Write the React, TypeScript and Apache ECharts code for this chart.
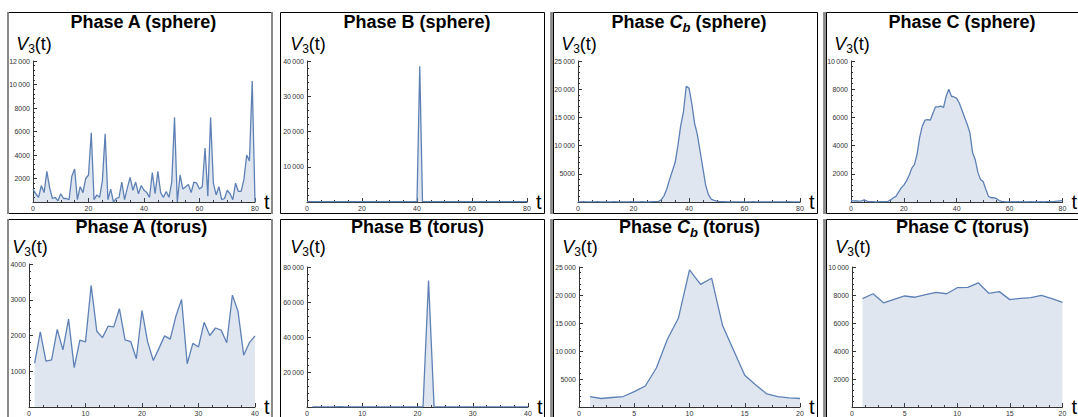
import React, { useEffect, useRef } from "react";
import * as echarts from "echarts";

// ---------------- data ----------------
const sphereT0 = 0; // sphere runs: t = 0..80
const torusT0 = 1; // torus runs: t = 1..N

const sphereA = [
  1100, 700, 400, 1400, 800, 2600, 1200, 300, 400, 100,
  700, 300, 300, 200, 2200, 2800, 200, 1300, 800, 2000,
  2300, 5900, 200, 600, 400, 1800, 5800, 200, 1100, 0,
  300, 400, 1700, 200, 1200, 2100, 1000, 1700, 700, 1400,
  1000, 800, 400, 2500, 700, 2600, 800, 400, 900, 400,
  1700, 7200, 0, 2300, 1100, 1300, 1500, 800, 1700, 1600,
  1100, 1300, 4600, 500, 7200, 1600, 600, 1300, 200, 300,
  1000, 700, 200, 1600, 900, 900, 1900, 4000, 3500, 10300,
  0,
];

const sphereB = [
  120, 90, 110, 100, 130, 90, 100, 110, 80, 120,
  100, 90, 110, 100, 120, 90, 100, 110, 100, 90,
  120, 100, 110, 90, 100, 130, 100, 90, 110, 100,
  120, 100, 90, 110, 100, 120, 90, 100, 110, 100,
  150, 38500, 120, 100, 90, 110, 100, 120, 90, 100,
  110, 100, 90, 120, 100, 110, 90, 100, 120, 100,
  110, 90, 100, 120, 100, 90, 110, 100, 120, 90,
  100, 110, 100, 90, 120, 100, 110, 90, 100, 110,
  100,
];

const sphereCb = [
  30, 20, 40, 20, 30, 20, 30, 40, 20, 30,
  20, 30, 20, 40, 30, 20, 30, 20, 30, 40,
  30, 20, 30, 40, 20, 30, 40, 60, 80, 120,
  400, 1100, 2300, 4000, 5500, 7000, 10000, 13500, 16000, 20500,
  20200, 17500, 14000, 12000, 9000, 6000, 3000, 1300, 500, 300,
  150, 80, 50, 40, 30, 20, 30, 20, 30, 20,
  30, 20, 30, 40, 20, 30, 20, 30, 20, 30,
  20, 30, 20, 30, 20, 30, 40, 20, 30, 20,
  30,
];

const sphereC = [
  100, 80, 70, 60, 80, 150, 60, 30, 20, 10,
  10, 20, 30, 20, 50, 150, 300, 400, 700, 1000,
  1200, 1500, 1900, 2400, 2650, 3400, 4600, 5400, 5800, 5850,
  5800, 6300, 6750, 6750, 6800, 6700, 7500, 8000, 7500, 7450,
  7350, 7000, 6500, 6000, 5500, 4900, 3500, 3000, 2100, 1600,
  1450, 900, 400, 300, 300, 250, 100, 50, 20, 10,
  10, 20, 10, 20, 10, 20, 10, 10, 20, 10,
  20, 10, 20, 10, 30, 20, 30, 40, 60, 80,
  100,
];

const torusA = [
  1230, 2100, 1280, 1320, 2170, 1600, 2460, 1100, 1870, 1820,
  3400, 2120, 1940, 2260, 2240, 2750, 1880, 1830, 1350, 2700,
  1820, 1300, 1640, 1990, 1900, 2540, 3010, 1210, 1780, 1680,
  2370, 2000, 2210, 2150, 1800, 3130, 2670, 1450, 1800, 1990,
];

const torusB = [
  100, 120, 90, 110, 100, 130, 90, 100, 110, 100,
  120, 90, 100, 110, 100, 90, 120, 100, 110, 100,
  150, 72300, 120, 100, 90, 110, 100, 120, 90, 100,
  110, 100, 90, 120, 100, 110, 90, 100, 110, 100,
];

const torusCb = [
  1870, 1520, 1700, 1870, 2750, 3750, 6970, 12100, 15900, 24500,
  21900, 23000, 14500, 10100, 5680, 3920, 2340, 1870, 1640, 1520,
];

const torusC = [
  7740, 8090, 7440, 7690, 7930, 7840, 8020, 8190, 8090, 8520,
  8540, 8870, 8120, 8240, 7670, 7760, 7810, 7980, 7740, 7480,
];

// axis ranges (tick labels)
const xMaxes = [80, 80, 80, 80, 40, 40, 20, 20];
const xSteps = [20, 20, 20, 20, 10, 10, 5, 5];
const yMaxes = [12000, 40000, 25000, 10000, 4000, 80000, 25000, 10000];
const ySteps = [2000, 10000, 5000, 2000, 1000, 20000, 5000, 2000];

const phaseNames = ["A", "B", "Cb", "C", "A", "B", "Cb", "C"];
const geometries = ["sphere", "sphere", "sphere", "sphere", "torus", "torus", "torus", "torus"];
const seriesValues = [sphereA, sphereB, sphereCb, sphereC, torusA, torusB, torusCb, torusC];
const seriesT0 = [sphereT0, sphereT0, sphereT0, sphereT0, torusT0, torusT0, torusT0, torusT0];

// ---------------- layout ----------------
const W = 1078;
const H = 417;
const FONT = '"Liberation Sans", Arial, Helvetica, sans-serif';
const LINE = "#5E81B5";
const AXIS = "#333";

// plot areas: [left, right, top, bottom] in px
const plotBoxes = [
  [33, 255, 61, 202],
  [307, 527, 61, 202],
  [578, 800, 61, 202],
  [851, 1073, 61, 202],
  [29, 255, 264, 409],
  [307, 528, 267, 409],
  [579, 800, 267, 409],
  [852, 1073, 267, 409],
];
// frames: [x1, y1, x2, y2]
const frames = [
  [8, 12.5, 272, 213.5],
  [280.5, 12.5, 544.5, 213.5],
  [553.5, 12.5, 817.5, 213.5],
  [826.5, 12.5, 1090, 213.5],
  [8, 219.5, 272, 440],
  [280.5, 219.5, 544.5, 440],
  [553.5, 219.5, 817.5, 440],
  [826.5, 219.5, 1090, 440],
];
const grayEdges = [8, 272, 551.5, 824.5];

type Part = { text: string; size: number; weight?: string; style?: string; dy?: number };

let measureCtx: CanvasRenderingContext2D | null = null;
function measure(p: Part): number {
  if (!measureCtx) measureCtx = document.createElement("canvas").getContext("2d");
  if (!measureCtx) return p.text.length * p.size * 0.55;
  measureCtx.font = `${p.style || "normal"} ${p.weight || "normal"} ${p.size}px ${FONT}`;
  return measureCtx.measureText(p.text).width;
}

function partsRow(parts: Part[], cx: number, cy: number): any[] {
  const widths = parts.map(measure);
  const total = widths.reduce((a, b) => a + b, 0);
  let x = cx - total / 2;
  const out: any[] = [];
  parts.forEach((p, i) => {
    out.push({
      type: "text",
      x,
      y: cy + (p.dy || 0),
      silent: true,
      style: {
        text: p.text,
        fontSize: p.size,
        fontWeight: p.weight || "normal",
        fontStyle: p.style || "normal",
        fontFamily: FONT,
        fill: "#000",
        align: "left",
        verticalAlign: "middle",
      },
    });
    x += widths[i];
  });
  return out;
}

function titleParts(phase: string, geom: string): Part[] {
  if (phase === "Cb") {
    return [
      { text: "Phase ", size: 18, weight: "bold" },
      { text: "C", size: 18, weight: "bold", style: "italic" },
      { text: "b", size: 13, weight: "bold", style: "italic", dy: 5 },
      { text: ` (${geom})`, size: 18, weight: "bold" },
    ];
  }
  return [{ text: `Phase ${phase} (${geom})`, size: 18, weight: "bold" }];
}

const yLabelParts: Part[] = [
  { text: "V", size: 18, style: "italic" },
  { text: "3", size: 12, dy: 5 },
  { text: "(t)", size: 18 },
];

function fmtY(v: number): string {
  if (v === 0) return "";
  if (v >= 10000) {
    const s = String(v);
    return s.slice(0, s.length - 3) + "\u2009" + s.slice(s.length - 3);
  }
  return String(v);
}

export default function App() {
  const ref = useRef<HTMLDivElement>(null);

  useEffect(() => {
    if (!ref.current) return;
    const chart = echarts.init(ref.current, undefined, { renderer: "svg", width: W, height: H });

    const grids = plotBoxes.map(([l, r, t, b]) => ({
      left: l,
      top: t,
      width: r - l,
      height: b - t,
      containLabel: false,
    }));

    const tickStyle = { color: AXIS, width: 1 };

    const xAxes = plotBoxes.map((_, i) => ({
      gridIndex: i,
      type: "value",
      min: 0,
      max: xMaxes[i],
      interval: xSteps[i],
      name: "t",
      nameLocation: "end",
      nameGap: 9,
      nameTextStyle: { fontSize: 20, fontFamily: FONT, color: "#000", verticalAlign: "middle" },
      axisLine: { show: true, onZero: false, lineStyle: tickStyle },
      axisTick: { show: true, inside: true, length: 4, lineStyle: tickStyle },
      minorTick: { show: true, splitNumber: 4, length: 2, lineStyle: tickStyle },
      axisLabel: { fontSize: 7, color: AXIS, margin: 3, fontFamily: FONT },
      splitLine: { show: false },
      minorSplitLine: { show: false },
    }));

    const yAxes = plotBoxes.map((_, i) => ({
      gridIndex: i,
      type: "value",
      min: 0,
      max: yMaxes[i],
      interval: ySteps[i],
      axisLine: { show: true, onZero: false, lineStyle: tickStyle },
      axisTick: { show: true, inside: true, length: 4, lineStyle: tickStyle },
      minorTick: { show: true, splitNumber: 5, length: 2, lineStyle: tickStyle },
      axisLabel: { fontSize: 7, color: AXIS, margin: 3, fontFamily: FONT, formatter: fmtY },
      splitLine: { show: false },
      minorSplitLine: { show: false },
    }));

    const series = seriesValues.map((vals, i) => ({
      type: "line",
      xAxisIndex: i,
      yAxisIndex: i,
      data: vals.map((v, k) => [seriesT0[i] + k, v]),
      showSymbol: false,
      symbol: "none",
      silent: true,
      lineStyle: { color: LINE, width: 1.3 },
      areaStyle: { color: LINE, opacity: 0.2 },
      z: 2,
    }));

    const graphics: any[] = [];
    frames.forEach(([x1, y1, x2, y2], i) => {
      const col = i % 4;
      graphics.push({
        type: "line",
        silent: true,
        shape: { x1, y1, x2, y2: y1 },
        style: { stroke: "#000", lineWidth: 1 },
      });
      graphics.push({
        type: "line",
        silent: true,
        shape: { x1, y1: y2, x2, y2 },
        style: { stroke: "#000", lineWidth: 1 },
      });
      if (col !== 0) {
        graphics.push({
          type: "line",
          silent: true,
          shape: { x1, y1, x2: x1, y2 },
          style: { stroke: "#000", lineWidth: 1 },
        });
      }
      if (col === 1 || col === 2) {
        graphics.push({
          type: "line",
          silent: true,
          shape: { x1: x2, y1, x2, y2 },
          style: { stroke: "#000", lineWidth: 1 },
        });
      }
      grayEdges.forEach((gx) => {
        graphics.push({
          type: "line",
          silent: true,
          shape: { x1: gx, y1: y1 - 0.5, x2: gx, y2: y2 + 0.5 },
          style: { stroke: "#8a8a8a", lineWidth: 2 },
        });
      });

      const [pl, pr] = plotBoxes[i];
      const row = i < 4 ? 0 : 1;
      const titleY = row === 0 ? 22 : 227;
      graphics.push(...partsRow(titleParts(phaseNames[i], geometries[i]), (pl + pr) / 2, titleY));
      graphics.push(...partsRow(yLabelParts, pl + 1, titleY + (row === 0 ? 22 : 20)));
    });

    chart.setOption({
      animation: false,
      backgroundColor: "#fff",
      grid: grids,
      xAxis: xAxes,
      yAxis: yAxes,
      series,
      graphic: graphics,
    });

    return () => {
      chart.dispose();
    };
  }, []);

  return (
    <div
      ref={ref}
      style={{ position: "fixed", left: 0, top: 0, width: W, height: H, background: "#fff" }}
    />
  );
}
